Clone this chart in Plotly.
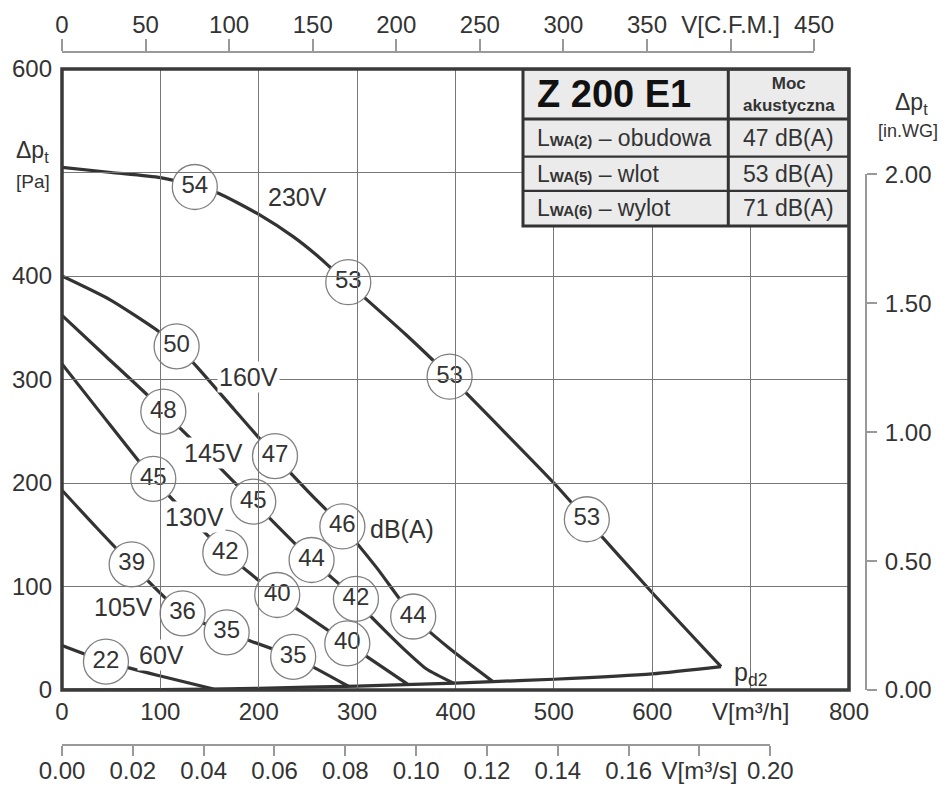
import plotly.graph_objects as go

# ---------------- data ----------------
# Fan curves: V [m3/h] vs total pressure dp_t [Pa]
v230_x = [0, 50, 100, 135, 159, 201, 235, 259, 272, 291, 350, 394, 450, 500, 533, 600, 670]
v230_y = [505, 500, 495, 487, 480, 459, 438, 420, 409, 393, 343, 303, 249, 200, 165, 94, 22.5]

v160_x = [0, 49, 96, 116.5, 133.5, 175, 216.5, 250, 285, 320, 357, 394, 438]
v160_y = [400, 377, 348, 332, 316, 271, 226, 192, 158, 118, 71, 40, 8.1]

v145_x = [0, 45, 89, 103, 150, 194.4, 253.7, 298.8, 311, 347, 371, 398]
v145_y = [362, 322, 283, 269, 225, 182, 125.6, 88, 74, 40, 20, 6.6]

v130_x = [0, 39, 92.8, 135, 166, 218.8, 290, 352]
v130_y = [315, 268, 204, 162, 132.7, 91.8, 45, 5.2]

v105_x = [0, 35, 70.8, 122.6, 167.4, 235, 291]
v105_y = [193, 157, 121.4, 74, 55.7, 32, 3.6]

v60_x = [0, 44.7, 100, 154]
v60_y = [43, 27.4, 13.5, 1.0]

# dynamic pressure curve p_d2
pd2_x = [0, 100, 200, 300, 400, 438, 500, 600, 670]
pd2_y = [0, 0.4, 1.7, 3.8, 6.7, 8.1, 10.4, 15.5, 22.5]

# sound power level markers (dB(A)) on the curves
circ_x = [135, 291, 394, 533.5,
          116.5, 216.5, 285, 357,
          103, 194.4, 253.7, 298.8,
          92.8, 166, 218.8, 290,
          70.8, 122.6, 167.4, 235,
          44.7]
circ_y = [486, 394, 302.7, 165,
          332, 226, 158, 71,
          269, 182, 125.6, 88,
          204, 132.7, 91.8, 45,
          121.4, 74, 55.7, 32,
          27.4]
circ_txt = ["54", "53", "53", "53",
            "50", "47", "46", "44",
            "48", "45", "44", "42",
            "45", "42", "40", "40",
            "39", "36", "35", "35",
            "22"]

# voltage labels
volt_txt = ["230V", "160V", "145V", "130V", "105V", "60V"]
volt_x = [239, 190, 153.5, 135, 63, 101]
volt_y = [476.6, 302, 228.7, 167.5, 80.5, 33.8]

# axes ticks
x_ticks = [0, 100, 200, 300, 400, 500, 600, 700, 800]
x_ticktext = ["0", "100", "200", "300", "400", "500", "600", "V[m³/h]", "800"]
y_ticks = [0, 100, 200, 300, 400, 500, 600]
y_ticktext = ["0", "100", "200", "300", "400", "", "600"]
cfm_ticks = [0, 50, 100, 150, 200, 250, 300, 350, 400, 450]
cfm_ticktext = ["0", "50", "100", "150", "200", "250", "300", "350", "V[C.F.M.]", "450"]
m3s_ticks = [0, 0.02, 0.04, 0.06, 0.08, 0.10, 0.12, 0.14, 0.16, 0.18, 0.20]
m3s_ticktext = ["0.00", "0.02", "0.04", "0.06", "0.08", "0.10", "0.12", "0.14", "0.16", "V[m³/s]", "0.20"]
inwg_ticks = [0, 0.5, 1.0, 1.5, 2.0]
inwg_ticktext = ["0.00", "0.50", "1.00", "1.50", "2.00"]

# info table
table_title = "Z 200 E1"
table_head = "Moc<br>akustyczna"
table_rows = ["L<b><span style='font-size:15px'>WA(2)</span></b> – obudowa",
              "L<b><span style='font-size:15px'>WA(5)</span></b> – wlot",
              "L<b><span style='font-size:15px'>WA(6)</span></b> – wylot"]
table_vals = ["47 dB(A)", "53 dB(A)", "71 dB(A)"]

CFM_TO_M3H = 1.699011
INWG_TO_PA = 249.0889

# ---------------- layout geometry (page pixels; page has 8px body margin) ----------------
OFF = 8
PAGE_W, PAGE_H = 946, 785
W, H = PAGE_W - OFF, PAGE_H - OFF
PAPER_L, PAPER_R, PAPER_T, PAPER_B = 62, 866, 52, 745     # page px
PLOT_L, PLOT_R, PLOT_T, PLOT_B = 62, 849, 69, 690         # page px
ML, MT = PAPER_L - OFF, PAPER_T - OFF
PW, PH = PAPER_R - PAPER_L, PAPER_B - PAPER_T
MR, MB = W - ML - PW, H - MT - PH


def px(xp):
    return (xp - PAPER_L) / PW


def py(yp):
    return (PAPER_B - yp) / PH


xdom = [px(PLOT_L), px(PLOT_R)]
ydom = [py(PLOT_B), py(PLOT_T)]
XMAX, YMAX = 800, 600
cfm_dom = [0, xdom[1] * (450 * CFM_TO_M3H) / XMAX]
m3s_dom = [0, xdom[1] * (0.20 * 3600) / XMAX]
inwg_dom = [ydom[0], ydom[0] + (ydom[1] - ydom[0]) * (2.0 * INWG_TO_PA) / YMAX]

FONT = "Liberation Sans, Arial, sans-serif"
TXT = "#333333"
CURVE = "#333333"
GRID = "#777777"

fig = go.Figure()

curves = [(v230_x, v230_y), (v160_x, v160_y), (v145_x, v145_y),
          (v130_x, v130_y), (v105_x, v105_y), (v60_x, v60_y), (pd2_x, pd2_y)]
for cx, cy in curves:
    fig.add_trace(go.Scatter(x=cx, y=cy, mode="lines",
                             line=dict(color=CURVE, width=3.2, shape="spline", smoothing=0.6),
                             hoverinfo="skip", showlegend=False, cliponaxis=False))

fig.add_trace(go.Scatter(x=circ_x, y=circ_y, mode="markers+text", text=circ_txt,
                         textposition="middle center",
                         textfont=dict(family=FONT, size=24, color=TXT),
                         marker=dict(size=45, color="white",
                                     line=dict(color="#808080", width=1.3)),
                         hoverinfo="skip", showlegend=False, cliponaxis=False))

# carrier traces for secondary axes (no visible marks)
fig.add_trace(go.Scatter(x=[None], y=[None], xaxis="x2", yaxis="y",
                         showlegend=False, hoverinfo="skip"))
fig.add_trace(go.Scatter(x=[None], y=[None], xaxis="x3", yaxis="y",
                         showlegend=False, hoverinfo="skip"))
fig.add_trace(go.Scatter(x=[None], y=[None], xaxis="x", yaxis="y2",
                         showlegend=False, hoverinfo="skip"))

annotations = []
for t, ax_, ay_ in zip(volt_txt, volt_x, volt_y):
    annotations.append(dict(x=ax_, y=ay_, xref="x", yref="y", text=t, showarrow=False,
                            font=dict(family=FONT, size=25, color=TXT),
                            bgcolor="white", borderpad=1))
annotations.append(dict(x=346, y=155.3, xref="x", yref="y", text="dB(A)", showarrow=False,
                        font=dict(family=FONT, size=25, color=TXT)))
annotations.append(dict(x=681, y=15, xref="x", yref="y", text="p<sub>d2</sub>",
                        showarrow=False, xanchor="left",
                        font=dict(family=FONT, size=25, color=TXT)))

# axis titles
annotations.append(dict(x=px(33), y=py(152), xref="paper", yref="paper",
                        text="Δp<sub>t</sub>", showarrow=False, xanchor="center", yanchor="middle",
                        font=dict(family=FONT, size=23, color=TXT)))
annotations.append(dict(x=px(33), y=py(181), xref="paper", yref="paper",
                        text="[Pa]", showarrow=False, xanchor="center", yanchor="middle",
                        font=dict(family=FONT, size=19, color=TXT)))
annotations.append(dict(x=px(911), y=py(104), xref="paper", yref="paper",
                        text="Δp<sub>t</sub>", showarrow=False, xanchor="center", yanchor="middle",
                        font=dict(family=FONT, size=23, color=TXT)))
annotations.append(dict(x=px(940), y=py(131), xref="paper", yref="paper",
                        text="[in.WG]", showarrow=False, xanchor="right", yanchor="middle",
                        font=dict(family=FONT, size=18, color=TXT)))

# table
TX0, TXD, TX1 = 468.6, 677.3, 800
TY = [600, 551.6, 515.4, 482.3, 448.4]
shapes = [dict(type="rect", xref="x", yref="y", x0=TX0, x1=TX1, y0=TY[4], y1=TY[0],
               fillcolor="#ebebeb", line=dict(color="#333333", width=3), layer="above")]
for yy in TY[1:4]:
    shapes.append(dict(type="line", xref="x", yref="y", x0=TX0, x1=TX1, y0=yy, y1=yy,
                       line=dict(color="#333333", width=2.2 if yy != TY[1] else 3), layer="above"))
shapes.append(dict(type="line", xref="x", yref="y", x0=TXD, x1=TXD, y0=TY[4], y1=TY[0],
                   line=dict(color="#333333", width=3), layer="above"))
# frame
shapes.append(dict(type="rect", xref="x domain", yref="y domain", x0=0, x1=1, y0=0, y1=1,
                   line=dict(color="#3a3a3a", width=3.5), layer="above"))

annotations.append(dict(x=TX0 + 12, y=(TY[0] + TY[1]) / 2, xref="x", yref="y",
                        text="<b>" + table_title + "</b>", showarrow=False, xanchor="left",
                        font=dict(family=FONT, size=38, color="#111111")))
annotations.append(dict(x=(TXD + TX1) / 2, y=(TY[0] + TY[1]) / 2, xref="x", yref="y",
                        text="<b>" + table_head + "</b>", showarrow=False,
                        font=dict(family=FONT, size=17, color=TXT)))
for i in range(3):
    yc = (TY[i + 1] + TY[i + 2]) / 2
    annotations.append(dict(x=TX0 + 12, y=yc, xref="x", yref="y", text=table_rows[i],
                            showarrow=False, xanchor="left",
                            font=dict(family=FONT, size=23, color=TXT)))
    annotations.append(dict(x=(TXD + TX1) / 2, y=yc, xref="x", yref="y", text=table_vals[i],
                            showarrow=False,
                            font=dict(family=FONT, size=23, color=TXT)))

tickfont = dict(family=FONT, size=24, color=TXT)
fig.update_layout(
    width=W, height=H,
    margin=dict(l=ML, r=MR, t=MT, b=MB, pad=0),
    paper_bgcolor="white", plot_bgcolor="rgba(0,0,0,0)",
    showlegend=False,
    font=dict(family=FONT, color=TXT),
    xaxis=dict(domain=xdom, range=[0, XMAX], tickmode="array", tickvals=x_ticks,
               ticktext=x_ticktext, showgrid=True, gridcolor=GRID, gridwidth=1.4,
               zeroline=False, showline=False, ticks="", ticklabelstandoff=5,
               tickfont=tickfont, automargin=False, anchor="y"),
    yaxis=dict(domain=ydom, range=[0, YMAX], tickmode="array", tickvals=y_ticks,
               ticktext=y_ticktext, showgrid=True, gridcolor=GRID, gridwidth=1.4,
               zeroline=False, showline=False, ticks="", ticklabelstandoff=9,
               tickfont=tickfont, automargin=False, anchor="x"),
    xaxis2=dict(domain=cfm_dom, range=[0, 450], anchor="free", position=1, side="top",
                tickmode="array", tickvals=cfm_ticks, ticktext=cfm_ticktext,
                showgrid=False, zeroline=False, showline=True, linecolor="#999999",
                linewidth=2, ticks="outside", ticklen=12, tickwidth=2, tickcolor="#999999",
                ticklabelstandoff=-4, tickfont=tickfont, automargin=False),
    xaxis3=dict(domain=m3s_dom, range=[0, 0.20], anchor="free", position=0, side="bottom",
                tickmode="array", tickvals=m3s_ticks, ticktext=m3s_ticktext,
                showgrid=False, zeroline=False, showline=True, linecolor="#999999",
                linewidth=2, ticks="outside", ticklen=10, tickwidth=2, tickcolor="#999999",
                ticklabelstandoff=-6, tickfont=tickfont, automargin=False),
    yaxis2=dict(domain=inwg_dom, range=[0, 2.0], anchor="free", position=1, side="right",
                tickmode="array", tickvals=inwg_ticks, ticktext=inwg_ticktext,
                showgrid=False, zeroline=False, showline=True, linecolor="#999999",
                linewidth=2, ticks="outside", ticklen=10, tickwidth=2, tickcolor="#999999",
                ticklabelstandoff=3, tickfont=tickfont, automargin=False),
    shapes=shapes,
    annotations=annotations,
)

fig.write_html("out.html")
